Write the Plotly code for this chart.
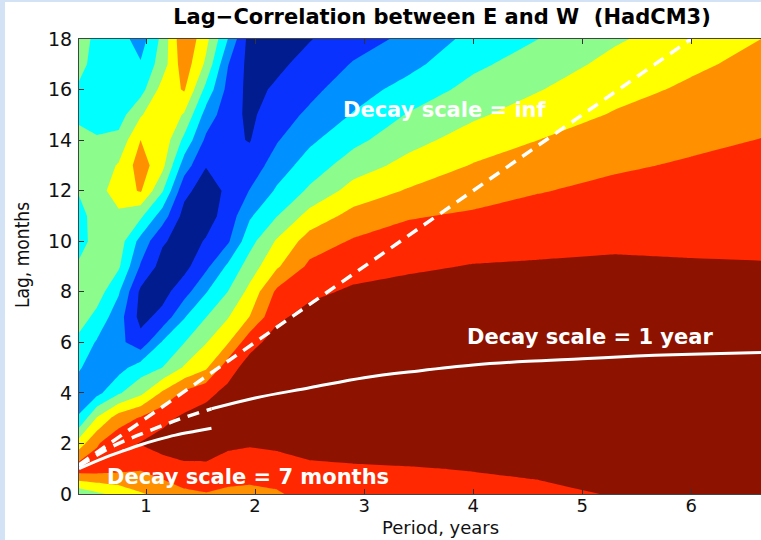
import plotly.graph_objects as go

# ---------------- data ----------------
# Period (years) of each column of the lag-correlation grid
period_years = [0.385, 0.55, 0.75, 0.95, 1.15, 1.35, 1.55, 1.75, 1.95,
                2.2, 2.5, 2.9, 3.4, 4.0, 4.6, 5.3, 6.0, 6.64]
# Lag (months) of each row
lag_months = [0, 1, 2, 3, 4, 5, 6, 7, 8, 9, 10, 11, 12, 13, 14, 15, 16, 17, 18]

# Correlation band level (0 = strongest negative ... 8 = strongest positive),
# one list per period column, lag 0 -> lag 18
lvl_p0385 = [3.75, 7.1, 5.0, 2.6, 2.0, 2.6, 3.2, 4.0, 4.2, 3.7, 3.0, 3.1, 3.6, 4.0, 3.8, 3.3, 3.3, 3.9, 4.2]
lvl_p055 = [4.3, 7.0, 6.4, 4.6, 2.2, 2.0, 2.4, 3.2, 4.0, 4.1, 4.0, 4.0, 4.1, 3.9, 3.6, 3.1, 3.0, 3.0, 3.1]
lvl_p075 = [4.8, 6.8, 7.2, 6.03, 3.38, 2.12, 1.8, 1.9, 2.6, 3.63, 4.0, 4.3, 5.0, 4.6, 3.8, 3.05, 2.9, 2.9, 3.0]
lvl_p095 = [5.4, 6.6, 7.55, 6.6, 4.25, 3.0, 0.86, 0.2, 0.3, 1.39, 2.16, 3.7, 5.6, 6.0, 5.5, 4.4, 3.1, 2.6, 2.0]
lvl_p115 = [5.8, 7.0, 7.9, 7.21, 5.66, 3.5, 2.6, 0.8, 0.15, 0.1, 0.63, 2.0, 3.6, 4.8, 5.2, 5.3, 4.9, 4.0, 3.8]
lvl_p135 = [6.3, 7.24, 8.1, 7.7, 6.71, 4.6, 3.47, 2.43, 1.09, 0.2, 0.05, 0.15, 0.78, 2.0, 3.25, 4.4, 5.6, 6.1, 6.4]
lvl_p155 = [6.45, 7.3, 8.0, 7.9, 7.25, 5.34, 4.45, 3.48, 2.44, 1.27, 0.58, 0.1, 0.0, 0.55, 1.3, 2.1, 3.2, 4.3, 4.8]
lvl_p175 = [6.3, 7.02, 7.7, 8.0, 7.75, 7.09, 5.4, 4.44, 3.5, 2.68, 1.35, 0.9, 0.7, 0.6, 0.7, 0.9, 1.2, 1.55, 2.5]
lvl_p195 = [6.26, 6.92, 7.6, 8.1, 8.2, 7.9, 7.16, 5.52, 4.79, 3.96, 3.14, 2.37, 1.53, 0.9, 0.45, 0.3, 0.2, 0.15, 0.1]
lvl_p220 = [6.38, 7.04, 7.7, 8.1, 8.3, 8.2, 7.9, 7.32, 6.7, 5.37, 4.62, 3.47, 2.64, 1.99, 1.42, 1.04, 0.65, 0.3, 0.1]
lvl_p250 = [6.9, 7.3, 7.9, 8.2, 8.35, 8.4, 8.3, 7.84, 7.27, 6.71, 5.96, 4.88, 3.67, 2.95, 2.31, 1.69, 1.23, 0.83, 0.45]
lvl_p290 = [7.1, 7.4, 7.9, 8.2, 8.4, 8.45, 8.35, 8.05, 7.65, 7.12, 6.6, 5.83, 4.9, 4.0, 3.23, 2.57, 2.06, 1.57, 1.1]
lvl_p340 = [7.2, 7.45, 7.95, 8.25, 8.45, 8.5, 8.45, 8.25, 7.85, 7.34, 6.9, 6.42, 5.58, 4.81, 4.15, 3.56, 2.86, 2.2, 1.7]
lvl_p400 = [7.2, 7.54, 7.95, 8.25, 8.45, 8.55, 8.55, 8.45, 8.2, 7.55, 7.08, 6.63, 6.11, 5.56, 4.94, 4.34, 3.82, 3.29, 2.8]
lvl_p460 = [7.3, 7.66, 8.0, 8.3, 8.5, 8.6, 8.6, 8.5, 8.2, 7.6, 7.23, 6.85, 6.45, 5.98, 5.5, 4.97, 4.45, 3.98, 3.5]
lvl_p530 = [7.55, 7.8, 8.1, 8.35, 8.5, 8.6, 8.6, 8.5, 8.25, 7.65, 7.34, 7.03, 6.72, 6.38, 5.98, 5.58, 5.18, 4.78, 4.38]
lvl_p600 = [7.7, 7.9, 8.15, 8.35, 8.5, 8.6, 8.6, 8.5, 8.2, 7.58, 7.34, 7.09, 6.85, 6.6, 6.31, 5.98, 5.66, 5.34, 5.02]
lvl_p664 = [7.75, 7.95, 8.2, 8.35, 8.5, 8.6, 8.6, 8.45, 8.1, 7.55, 7.33, 7.12, 6.92, 6.72, 6.52, 6.27, 6.01, 5.76, 5.5]

# Decay scale = inf (quarter-period line), dashed
inf_period = [0.385, 6.0]
inf_lag = [1.155, 18.0]
# Decay scale = 1 year: dashed short part, then solid
yr_dash_period = [0.385, 0.7, 1.0, 1.3, 1.6]
yr_dash_lag = [1.1, 1.9, 2.45, 2.95, 3.37]
yr_solid_period = [1.6, 2.0, 2.5, 3.0, 3.5, 4.0, 4.5, 5.0, 5.5, 6.0, 6.64]
yr_solid_lag = [3.37, 3.8, 4.2, 4.6, 4.87, 5.1, 5.25, 5.35, 5.46, 5.53, 5.6]
# Decay scale = 7 months, solid
m7_period = [0.385, 0.6, 0.8, 0.96, 1.1, 1.27, 1.45, 1.6]
m7_lag = [1.0, 1.4, 1.72, 1.96, 2.14, 2.33, 2.48, 2.6]

x_ticks = [1, 2, 3, 4, 5, 6]
y_ticks = [0, 2, 4, 6, 8, 10, 12, 14, 16, 18]

band_colors = ["#001C8E", "#0A32FF", "#0090FF", "#00FFFF", "#8CFC8C",
               "#FFFF00", "#FF9000", "#FF2800", "#8E1200"]

# ---------------- build figure ----------------
columns = [lvl_p0385, lvl_p055, lvl_p075, lvl_p095, lvl_p115, lvl_p135, lvl_p155,
           lvl_p175, lvl_p195, lvl_p220, lvl_p250, lvl_p290, lvl_p340, lvl_p400,
           lvl_p460, lvl_p530, lvl_p600, lvl_p664]
z = [[col[i] for col in columns] for i in range(len(lag_months))]

n = len(band_colors) - 1
colorscale = []
for k, c in enumerate(band_colors):
    lo = max(0.0, (k - 0.5) / n)
    hi = min(1.0, (k + 0.5) / n)
    colorscale.append([lo, c])
    colorscale.append([hi, c])

fig = go.Figure()
fig.add_trace(go.Contour(
    x=period_years, y=lag_months, z=z,
    colorscale=colorscale, zmin=0, zmax=8,
    autocontour=False,
    contours=dict(start=0.5, end=7.5, size=1, coloring="fill", showlines=False),
    line=dict(width=0, smoothing=0),
    showscale=False, hoverinfo="skip",
))

dash = "12px,8px"
fig.add_trace(go.Scatter(x=inf_period, y=inf_lag, mode="lines",
                         line=dict(color="white", width=3.5, dash=dash), hoverinfo="skip"))
fig.add_trace(go.Scatter(x=yr_dash_period, y=yr_dash_lag, mode="lines",
                         line=dict(color="white", width=3.5, dash=dash, shape="spline"), hoverinfo="skip"))
fig.add_trace(go.Scatter(x=yr_solid_period, y=yr_solid_lag, mode="lines",
                         line=dict(color="white", width=3, shape="spline"), hoverinfo="skip"))
fig.add_trace(go.Scatter(x=m7_period, y=m7_lag, mode="lines",
                         line=dict(color="white", width=3, shape="spline"), hoverinfo="skip"))
# invisible trace to instantiate the top (mirror) axis
fig.add_trace(go.Scatter(x=[None], y=[None], xaxis="x2", yaxis="y", mode="lines",
                         showlegend=False, hoverinfo="skip"))

lab_font = dict(family="DejaVu Sans", size=21, color="white")
annots = [
    dict(x=3.74, y=15.2, text="<b>Decay scale = inf</b>"),
    dict(x=5.07, y=6.23, text="<b>Decay scale = 1 year</b>"),
    dict(x=1.935, y=0.69, text="<b>Decay scale = 7 months</b>"),
]
for a in annots:
    fig.add_annotation(x=a["x"], y=a["y"], text=a["text"], xref="x", yref="y",
                       showarrow=False, font=lab_font, xanchor="center", yanchor="middle")

W, H = 761, 540
L_M, R_M, T_M, B_M = 79, 0, 39, 46
pw, ph = W - L_M - R_M, H - T_M - B_M

fig.add_annotation(text="Period, years", xref="paper", yref="paper",
                   x=(440 - L_M) / pw, y=(H - B_M - 527.5) / ph, showarrow=False,
                   xanchor="center", yanchor="middle",
                   font=dict(family="DejaVu Sans", size=18, color="#111"))
fig.add_annotation(text="Lag, months", xref="paper", yref="paper",
                   x=(22 - L_M) / pw, y=(H - B_M - 255) / ph, showarrow=False,
                   textangle=-90, xanchor="center", yanchor="middle",
                   font=dict(family="Liberation Sans Narrow, DejaVu Sans Condensed, Liberation Sans",
                             size=19, color="#111"))

# light-blue slide border strips (left and top)
strip = "#D3E2F4"
fig.add_shape(type="rect", xref="paper", yref="paper", layer="below",
              x0=-L_M / pw, x1=(5 - L_M) / pw, y0=-B_M / ph, y1=(H - B_M) / ph,
              line=dict(width=0), fillcolor=strip)
fig.add_shape(type="rect", xref="paper", yref="paper", layer="below",
              x0=-L_M / pw, x1=1.0, y0=(H - B_M - 2) / ph, y1=(H - B_M) / ph,
              line=dict(width=0), fillcolor=strip)

axis_common = dict(ticks="inside", ticklen=5, tickwidth=1, tickcolor="#333",
                   showline=True, linecolor="#444", linewidth=1,
                   showgrid=False, zeroline=False, automargin=False)
fig.update_layout(
    width=W, height=H,
    margin=dict(l=L_M, r=R_M, t=T_M, b=B_M, pad=0),
    paper_bgcolor="white", plot_bgcolor="white",
    showlegend=False,
    title=dict(text="<b>Lag\u2212Correlation between E and W \u00a0(HadCM3)</b>",
               x=442 / W, y=1 - 17 / H, xanchor="center", yanchor="middle",
               xref="container", yref="container",
               font=dict(family="DejaVu Sans", size=21, color="#000")),
    xaxis=dict(range=[period_years[0], period_years[-1]], tickvals=x_ticks,
               tickfont=dict(family="DejaVu Sans", size=18, color="#111"),
               ticklabelstandoff=-5, **axis_common),
    xaxis2=dict(range=[period_years[0], period_years[-1]], tickvals=x_ticks,
                overlaying="x", side="top", matches="x", showticklabels=False,
                anchor="y", **axis_common),
    yaxis=dict(range=[lag_months[0], lag_months[-1]], tickvals=y_ticks,
               tickfont=dict(family="DejaVu Sans", size=19, color="#111"),
               ticklabelstandoff=2, **axis_common),
)

fig.write_html("out.html")
